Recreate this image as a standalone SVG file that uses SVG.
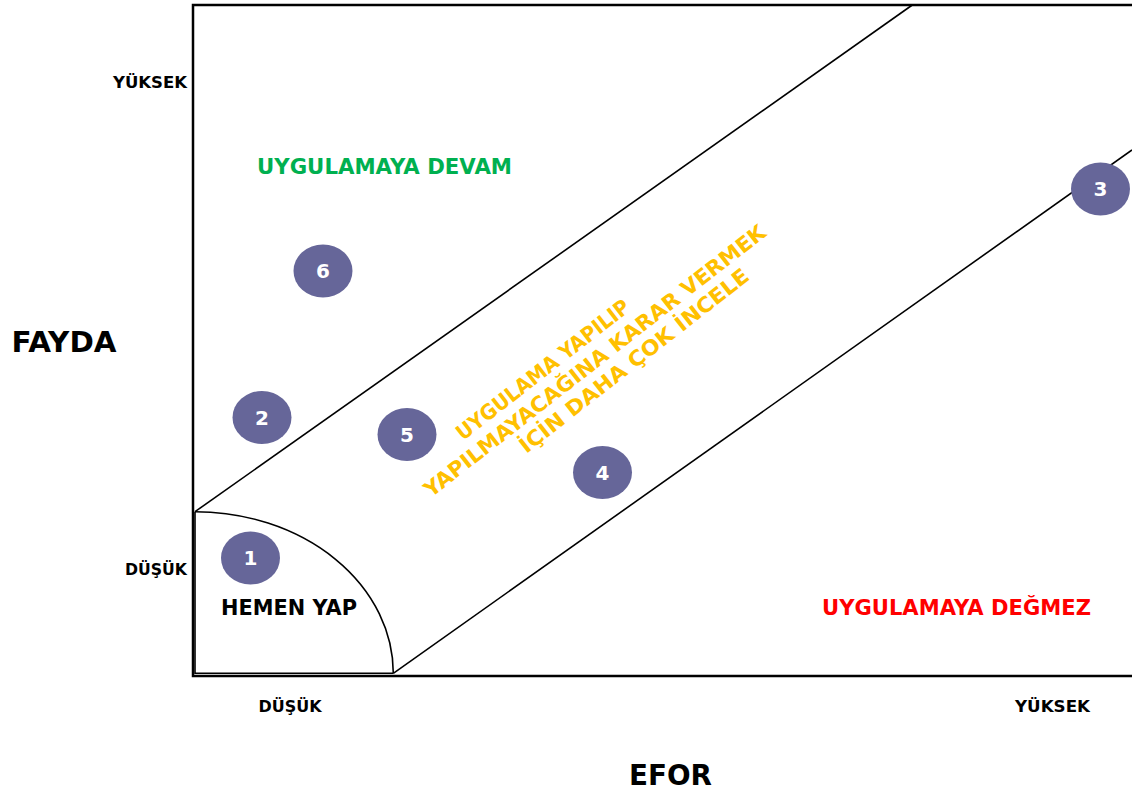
<svg xmlns="http://www.w3.org/2000/svg" width="1132" height="791" viewBox="0 0 1132 791">
<style>
text{font-family:"DejaVu Sans","Verdana","Liberation Sans",sans-serif;font-weight:bold}
.ax{font-size:16px;fill:#000}
.big{font-size:28px;fill:#000}
.zone{font-size:21px}
.num{font-size:20px;fill:#fff;text-anchor:middle}
.dot{fill:#666699}
.frame{fill:none;stroke:#000;stroke-width:2.5}
.ln{fill:none;stroke:#000;stroke-width:1.6}
.or{font-size:21px;fill:#FFC000}
</style>
<rect width="1132" height="791" fill="#fff"/>
<g id="axes">
<path class="frame" d="M1132,5 H193 V676 H1132"/>
</g>
<g id="connectors">
<path class="ln" d="M195,511.7 V673.3 H393.3"/>
<path class="ln" d="M195,511.7 A198.3,161.6 0 0 1 393.3,673.3"/>
<line class="ln" x1="195" y1="511.7" x2="912.3" y2="5"/>
<line class="ln" x1="393.3" y1="673.3" x2="1132" y2="150"/>
</g>
<g id="labels">
<text class="ax" x="113" y="88" textLength="74" lengthAdjust="spacingAndGlyphs">YÜKSEK</text>
<text class="ax" x="125" y="575" textLength="62" lengthAdjust="spacingAndGlyphs">DÜŞÜK</text>
<text class="ax" x="258.5" y="712" textLength="63" lengthAdjust="spacingAndGlyphs">DÜŞÜK</text>
<text class="ax" x="1015" y="712" textLength="75" lengthAdjust="spacingAndGlyphs">YÜKSEK</text>
<text class="big" x="11.5" y="352" textLength="105" lengthAdjust="spacingAndGlyphs">FAYDA</text>
<text class="big" x="629" y="785" textLength="83" lengthAdjust="spacingAndGlyphs">EFOR</text>
</g>
<g id="zone-devam"><text class="zone" x="257" y="174" fill="#00B050" textLength="255" lengthAdjust="spacingAndGlyphs">UYGULAMAYA DEVAM</text></g>
<g id="zone-degmez"><text class="zone" x="822" y="615" fill="#FF0000" textLength="269" lengthAdjust="spacingAndGlyphs">UYGULAMAYA DEĞMEZ</text></g>
<g id="zone-hemen"><text class="zone" x="221" y="615" fill="#000" textLength="136" lengthAdjust="spacingAndGlyphs">HEMEN YAP</text></g>
<g id="zone-incele" transform="translate(431,498) rotate(-38)">
<text class="or" x="60" y="-25" textLength="214" lengthAdjust="spacingAndGlyphs">UYGULAMA YAPILIP</text>
<text class="or" x="0" y="0" textLength="427" lengthAdjust="spacingAndGlyphs">YAPILMAYACAĞINA KARAR VERMEK</text>
<text class="or" x="102" y="24" textLength="285" lengthAdjust="spacingAndGlyphs">İÇİN DAHA ÇOK İNCELE</text>
</g>
<g id="n1"><ellipse class="dot" cx="250.5" cy="558" rx="29.5" ry="26.5"/><text class="num" x="250.5" y="565">1</text></g>
<g id="n2"><ellipse class="dot" cx="262" cy="417.5" rx="29.5" ry="26.5"/><text class="num" x="262" y="424.5">2</text></g>
<g id="n3"><ellipse class="dot" cx="1100.5" cy="189" rx="29.5" ry="26.5"/><text class="num" x="1100.5" y="196">3</text></g>
<g id="n4"><ellipse class="dot" cx="602.5" cy="472.5" rx="29.5" ry="26.5"/><text class="num" x="602.5" y="479.5">4</text></g>
<g id="n5"><ellipse class="dot" cx="407" cy="434.5" rx="29.5" ry="26.5"/><text class="num" x="407" y="441.5">5</text></g>
<g id="n6"><ellipse class="dot" cx="323" cy="271" rx="29.5" ry="26.5"/><text class="num" x="323" y="278">6</text></g>
</svg>
